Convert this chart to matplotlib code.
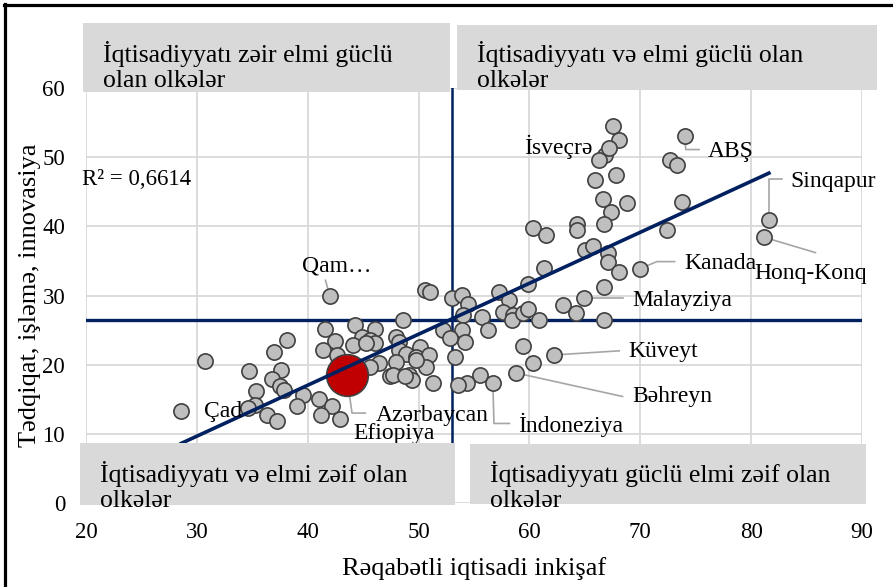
import matplotlib
matplotlib.use("Agg")
import matplotlib.pyplot as plt
from matplotlib.patches import Rectangle
from matplotlib.lines import Line2D

plt.rcParams['font.family'] = ['Liberation Serif', 'DejaVu Serif']

# ---- values ----
other_x = [30.7, 38.1, 37.0, 34.7, 37.6, 36.8, 37.5, 37.9, 35.3, 39.6, 39.0, 35.2, 34.6, 36.3, 37.2,
           41.6, 42.5, 41.4, 42.6, 41.0, 42.2, 41.2, 44.3, 46.1, 44.9, 45.6, 44.1, 46.1, 45.3, 48.6,
           48.0, 48.2, 48.2, 48.9, 50.1, 49.8, 50.9, 50.7, 48.0, 46.4, 45.6, 47.4, 47.7, 49.1, 49.4,
           51.3, 48.8, 49.8,
           50.6, 51.0, 53.0, 53.9, 54.5, 54.0, 55.7, 52.2, 53.9, 52.8, 54.2, 56.3, 53.3, 55.5, 54.4,
           53.6, 59.4, 60.3,
           57.3, 58.2, 59.9, 61.3, 57.6, 58.5, 58.4, 59.4, 59.9, 60.9, 63.0, 64.2, 66.7, 66.7,
           67.5, 68.1, 66.8, 66.3, 67.8, 65.9, 66.6, 68.8, 67.4, 66.7, 60.3, 61.5, 64.3, 64.3,
           65.0, 65.7, 67.1, 67.1, 68.1, 72.4, 73.8, 72.7, 73.3]
other_y = [20.5, 23.6, 21.9, 19.1, 19.2, 18.0, 16.9, 16.4, 16.2, 15.6, 14.0, 14.2, 13.8, 12.7, 11.9,
           25.1, 23.4, 22.1, 21.4, 15.0, 14.0, 12.7, 25.7, 25.1, 24.0, 23.6, 22.8, 23.1, 23.1, 26.4,
           24.0, 23.3, 22.1, 21.6, 22.6, 21.1, 21.4, 19.7, 20.4, 20.2, 19.7, 18.3, 18.5, 18.5, 17.8,
           17.3, 18.3, 20.7,
           30.8, 30.5, 29.6, 30.1, 28.7, 27.2, 26.9, 25.0, 25.0, 23.8, 23.3, 25.0, 21.1, 18.5, 17.3,
           17.1, 22.7, 20.3,
           30.5, 29.4, 31.6, 34.0, 27.6, 27.2, 26.4, 27.5, 28.1, 26.4, 28.6, 27.4, 31.2, 26.5,
           54.5, 52.5, 50.3, 49.6, 47.4, 46.7, 43.9, 43.4, 42.1, 40.4, 39.8, 38.7, 40.3, 39.4,
           36.6, 37.1, 36.1, 34.9, 33.4, 39.5, 43.5, 49.6, 48.8]

named = ["İsveçrə", "ABŞ", "Sinqapur", "Honq-Konq", "Kanada", "Malayziya", "Küveyt",
         "Bəhreyn", "İndoneziya", "Efiopiya", "Çad", "Qam…"]
named_x = [67.2, 74.0, 81.6, 81.2, 70.0, 64.9, 62.2, 58.8, 56.7, 42.9, 28.6, 42.0]
named_y = [51.3, 53.1, 40.9, 38.4, 33.9, 29.7, 21.4, 18.8, 17.4, 12.2, 13.3, 29.9]

az_name = "Azərbaycan"
az_x = 43.5
az_y = 18.5

x_mean = 53.0
y_mean = 26.4
trend_slope = 0.737
trend_intercept = -12.45
r2_text = "R² = 0,6614"

x_ticks = [20, 30, 40, 50, 60, 70, 80, 90]
y_ticks = [0, 10, 20, 30, 40, 50, 60]
x_label = "Rəqabətli iqtisadi inkişaf"
y_label = "Tədqiqat, işləmə, innovasiya"

box_texts = ["İqtisadiyyatı zəir elmi güclü\nolan olkələr",
             "İqtisadiyyatı və elmi güclü olan\nolkələr",
             "İqtisadiyyatı və elmi zəif olan\nolkələr",
             "İqtisadiyyatı güclü elmi zəif olan\nolkələr"]

# ---- layout ----
W, H = 893, 587
navy = "#002060"
grid_c = "#D9D9D9"
lead_c = "#A6A6A6"

fig = plt.figure(figsize=(W / 100, H / 100), dpi=100)
ax = fig.add_axes([86 / W, 1 - 503 / H, 776 / W, 415 / H])
ax.set_xlim(20, 90)
ax.set_ylim(0, 60)
ax.set_xticks(x_ticks)
ax.set_yticks(y_ticks)
ax.grid(True, color=grid_c, lw=1.3)
ax.set_axisbelow(True)
for s in ax.spines.values():
    s.set_visible(False)
ax.tick_params(length=0, labelsize=16.5)
ax.tick_params(axis="y", pad=15)
ax.tick_params(axis="x", pad=14)
ax.set_xlabel(x_label, fontsize=19, labelpad=10)
ax.set_ylabel(y_label, fontsize=19, labelpad=1)

# quadrant lines (under the markers) and trend line (over them)
ax.axhline(y_mean, color=navy, lw=2.4, zorder=2)
ax.axvline(x_mean, color=navy, lw=1.8, zorder=2)
all_x = other_x + named_x + [az_x]
tx = [min(all_x), max(all_x)]
ax.plot(tx, [trend_slope * v + trend_intercept for v in tx], color=navy, lw=2.6, zorder=5.5)

# leaders for labelled points: (text x, text y, ha, bends)
label_pos = {
    "İsveçrə": (65.7, 51.5, "right", []),
    "ABŞ": (76.1, 50.8, "left", [(74.1, 51.1), (75.3, 51.1)]),
    "Sinqapur": (83.5, 46.5, "left", [(81.6, 46.9), (82.8, 46.9)]),
    "Honq-Konq": (80.3, 33.2, "left", [(85.8, 36.2)]),
    "Kanada": (74.0, 34.6, "left", [(71.5, 34.9), (73.1, 34.9)]),
    "Malayziya": (69.3, 29.3, "left", [(68.4, 29.7)]),
    "Küveyt": (68.9, 21.9, "left", [(68.1, 22.0)]),
    "Bəhreyn": (69.3, 15.4, "left", [(68.4, 15.4)]),
    "İndoneziya": (59.0, 11.3, "left", [(56.8, 11.5), (58.2, 11.5)]),
    "Efiopiya": (44.1, 10.0, "left", []),
    "Çad": (30.6, 13.2, "left", []),
    "Qam…": (39.5, 34.2, "left", [(41.6, 32.2)]),
    az_name: (46.1, 12.7, "left", [(44.0, 13.0), (45.2, 13.0)]),
}

pts = list(zip(named, named_x, named_y)) + [(az_name, az_x, az_y)]
for name, px_, py_ in pts:
    tx_, ty_, ha, bends = label_pos[name]
    if bends:
        xs = [px_] + [b[0] for b in bends]
        ys = [py_] + [b[1] for b in bends]
        ax.plot(xs, ys, color=lead_c, lw=1.2, zorder=3)
    ax.text(tx_, ty_, name, ha=ha, va="center", fontsize=17, zorder=6)

ax.scatter(other_x + named_x, other_y + named_y, s=120, facecolor="#BFBFBF",
           edgecolor="#404040", linewidth=1.2, zorder=5)
ax.scatter([az_x], [az_y], s=900, facecolor="#C00000", edgecolor="#404040",
           linewidth=1.2, zorder=5)

ax.text(19.6, 46.7, r2_text, ha="left", va="center", fontsize=16.5, zorder=6)


def fx(p):
    return p / W


def fy(p):
    return 1 - p / H


boxes = [(83, 23, 450, 92, 103, 66.7),
         (457, 25, 877, 90, 477, 66.7),
         (80, 443, 455, 505, 100, 486.7),
         (470, 444, 866, 504, 490, 486.7)]
for (x0, y0, x1, y1, tx0, ty0), txt in zip(boxes, box_texts):
    fig.add_artist(Rectangle((fx(x0), fy(y1)), fx(x1) - fx(x0), fy(y0) - fy(y1),
                             transform=fig.transFigure, facecolor="#D9D9D9",
                             edgecolor="none", zorder=3))
    fig.text(fx(tx0), fy(ty0), txt, ha="left", va="center", fontsize=18.5,
             linespacing=1.15, zorder=4)

# outer frame (left and top only)
fig.add_artist(Line2D([fx(5), fx(5)], [fy(3.5), 0], transform=fig.transFigure,
                      color="black", lw=2.3))
fig.add_artist(Line2D([fx(3.5), 1], [fy(5), fy(5)], transform=fig.transFigure,
                      color="black", lw=2.3))

fig.savefig("out.png", dpi=100)
